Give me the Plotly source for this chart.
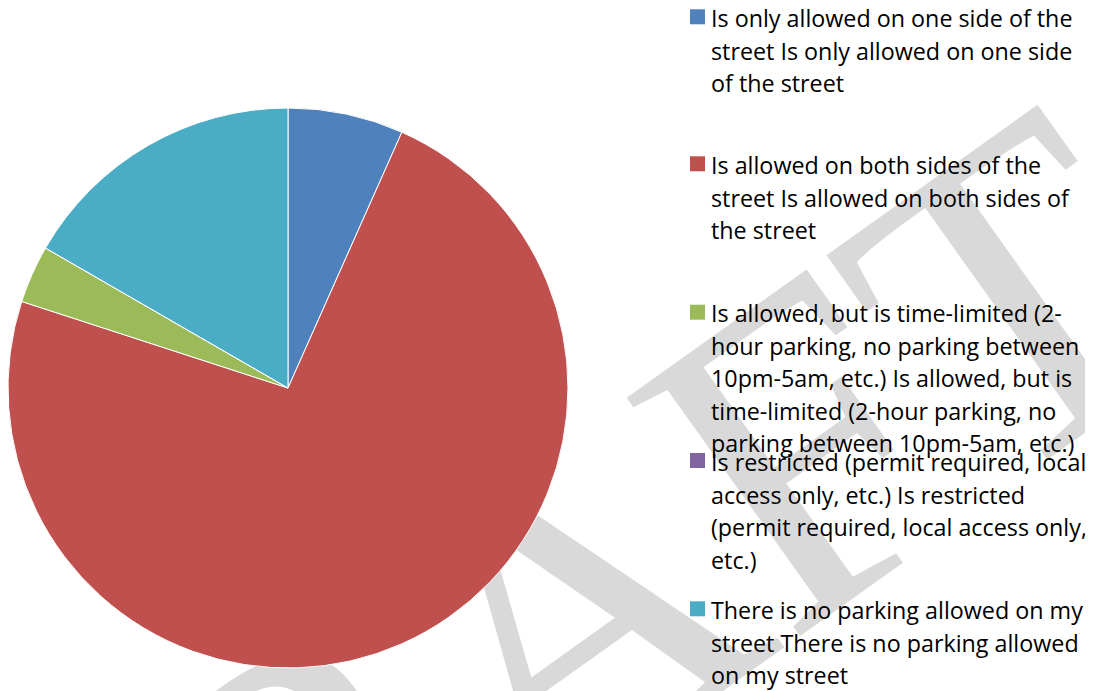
import plotly.graph_objects as go

# ---- data ----
categories = [
    "Is only allowed on one side of the street Is only allowed on one side of the street",
    "Is allowed on both sides of the street Is allowed on both sides of the street",
    "Is allowed, but is time-limited (2-hour parking, no parking between 10pm-5am, etc.) Is allowed, but is time-limited (2-hour parking, no parking between 10pm-5am, etc.)",
    "Is restricted (permit required, local access only, etc.) Is restricted (permit required, local access only, etc.)",
    "There is no parking allowed on my street There is no parking allowed on my street",
]
values = [2, 22, 1, 0, 5]
colors = ["#4F81BD", "#C0504D", "#9BBB59", "#8064A2", "#4BACC6"]
legend_lines = [
    ["Is only allowed on one side of the", "street Is only allowed on one side", "of the street"],
    ["Is allowed on both sides of the", "street Is allowed on both sides of", "the street"],
    ["Is allowed, but is time-limited (2-", "hour parking, no parking between",
     "10pm-5am, etc.) Is allowed, but is", "time-limited (2-hour parking, no",
     "parking between 10pm-5am, etc.)"],
    ["Is restricted (permit required, local", "access only, etc.) Is restricted",
     "(permit required, local access only,", "etc.)"],
    ["There is no parking allowed on my", "street There is no parking allowed", "on my street"],
]
watermark = "DRAFT"

# ---- layout helpers (screen pixel -> paper; page body has an 8px margin) ----
OFF = 8
W, H = 1085, 683
def px(x):
    return (x - OFF) / W
def py(y):
    return 1 - (y - OFF) / H

fig = go.Figure(go.Pie(
    labels=categories, values=values, sort=False, direction="clockwise", rotation=0,
    marker=dict(colors=colors, line=dict(color="white", width=1)),
    textinfo="none", showlegend=False,
    domain=dict(x=[px(8), px(568)], y=[py(668), py(108)]),
))

# watermark behind the pie
wx, wy = 497.5, 605
fig.add_shape(
    type="rect", xref="paper", yref="paper",
    x0=px(wx - 5), x1=px(wx + 5), y0=py(wy + 5), y1=py(wy - 5),
    line=dict(width=0), fillcolor="rgba(0,0,0,0)", layer="below",
    label=dict(text=watermark, textangle=-35.5, textposition="middle center",
               font=dict(family="Liberation Serif", size=450, color="#d9d9d9")),
)

# legend drawn as text + colour keys
key_top = [9.3, 156.3, 304.7, 453.0, 601.3]
for k, lines in enumerate(legend_lines):
    top = key_top[k]
    fig.add_shape(type="rect", xref="paper", yref="paper",
                  x0=px(690), x1=px(705), y0=py(top + 15), y1=py(top),
                  fillcolor=colors[k], line=dict(width=0), layer="above")
    text = "<br>".join(f"<span style='font-size:23.3px'>{l}</span>" for l in lines)
    baseline = top + 14.3
    fig.add_annotation(
        x=px(709), y=py(baseline - 23.7), xref="paper", yref="paper",
        xanchor="left", yanchor="top", align="left", showarrow=False,
        text=text, font=dict(family="Open Sans", size=25, color="#000000"),
    )

fig.update_layout(
    width=W, height=H, margin=dict(l=0, r=0, t=0, b=0),
    paper_bgcolor="white", plot_bgcolor="white",
)
fig.write_html("out.html")
